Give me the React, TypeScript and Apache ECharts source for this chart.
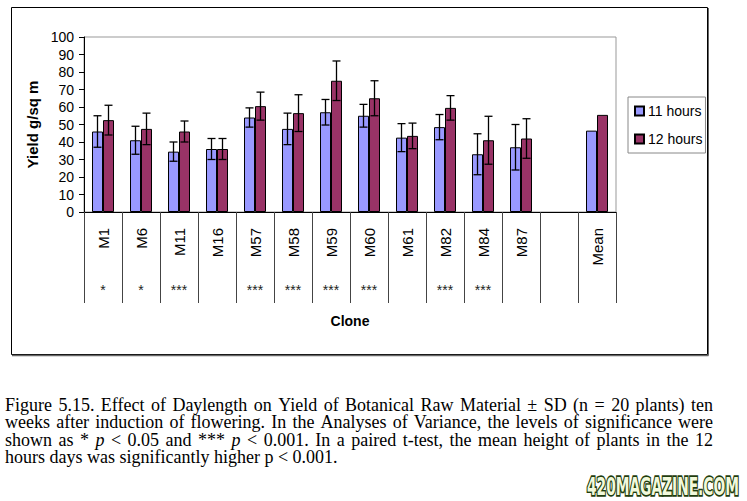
import React, { useEffect, useRef } from "react";
import * as echarts from "echarts";

const categories = ["M1", "M6", "M11", "M16", "M57", "M58", "M59", "M60", "M61", "M82", "M84", "M87", "", "Mean"];
const significance = ["*", "*", "***", "", "***", "***", "***", "***", "", "***", "***", "", "", ""];
const hours11 = [46, 41, 34.5, 36, 54, 47.5, 57, 55, 42.5, 48.5, 33, 37, null, 46.5];
const sd11 = [9, 8, 5.5, 6, 5.5, 9, 7.3, 6.5, 8, 7.2, 11.7, 13, null, null];
const hours12 = [52.5, 47.5, 46, 36, 60.5, 56.5, 75, 65, 43.5, 59.5, 41, 42, null, 55.5];
const sd12 = [8.5, 9, 6, 6, 8, 10.5, 11.3, 10, 7.3, 7, 13.7, 11.3, null, null];
const seriesNames = ["11 hours", "12 hours"];
const yTicks = { min: 0, max: 100, interval: 10 };

const captionLines = [
  "Figure 5.15. Effect of Daylength on Yield of Botanical Raw Material \u00b1 SD (n = 20 plants) ten",
  "weeks after induction of flowering.  In the Analyses of Variance, the levels of significance were",
  "shown as * p < 0.05 and *** p < 0.001. In a paired t-test, the mean height of plants in the 12",
  "hours days was significantly higher p < 0.001.",
];
const captionItalic = [[], [], [3, 8], []];
const watermark = "420MAGAZINE.COM";

const BAR_W = 11;
const SANS = "Liberation Sans";
const SERIF = "Liberation Serif";

function buildCaption(): any[] {
  const ctx = document.createElement("canvas").getContext("2d") as CanvasRenderingContext2D;
  const fs = 18;
  const left = 5;
  const right = 713;
  const out: any[] = [];
  captionLines.forEach((line, li) => {
    const words = line.split(/\s+/);
    const widths = words.map((w, wi) => {
      const it = captionItalic[li].includes(wi);
      ctx.font = `${it ? "italic " : ""}${fs}px "${SERIF}"`;
      return ctx.measureText(w).width;
    });
    ctx.font = `${fs}px "${SERIF}"`;
    const spaceW = ctx.measureText(" ").width;
    const total = widths.reduce((a, b) => a + b, 0);
    const justify = li < captionLines.length - 1;
    const gap = justify ? Math.max(spaceW * 0.6, (right - left - total) / (words.length - 1)) : spaceW;
    let x = left;
    const y = 404.5 + li * 17.6;
    words.forEach((w, wi) => {
      const it = captionItalic[li].includes(wi);
      out.push({
        type: "text",
        x,
        y,
        silent: true,
        style: {
          text: w,
          fontFamily: SERIF,
          fontSize: fs,
          lineHeight: 17,
          fontStyle: it ? "italic" : "normal",
          fill: "#000",
          verticalAlign: "middle",
        },
      });
      x += widths[wi] + gap;
    });
  });
  const baseFs = 25;
  ctx.font = `bold ${baseFs}px "DejaVu Sans Condensed"`;
  const ww = ctx.measureText(watermark).width;
  const wfs = (baseFs * 152) / ww;
  out.push({
    type: "text",
    x: 587,
    y: 487,
    scaleX: 1,
    scaleY: baseFs / wfs,
    silent: true,
    style: {
      text: watermark,
      fontFamily: "DejaVu Sans Condensed",
      fontWeight: "bold",
      fontSize: wfs,
      lineHeight: wfs * 0.9,
      fill: "#f2f9dc",
      stroke: "#1f3d0e",
      lineWidth: 2,
      verticalAlign: "middle",
    },
  });
  return out;
}

export default function App() {
  const ref = useRef<HTMLDivElement>(null);
  useEffect(() => {
    if (!ref.current) return;
    const chart = echarts.init(ref.current, null, { renderer: "svg" });
    const errData: any[] = [];
    [sd11, sd12].forEach((sds, s) => {
      const means = s === 0 ? hours11 : hours12;
      sds.forEach((sd, i) => {
        if (sd != null && means[i] != null) errData.push([i, means[i], sd, s]);
      });
    });
    const option: any = {
      animation: false,
      backgroundColor: "#fff",
      textStyle: { fontFamily: SANS },
      grid: { left: 84, top: 37, width: 532, height: 175, show: true, borderColor: "#999", borderWidth: 1, backgroundColor: "#fff" },
      legend: {
        data: seriesNames,
        orient: "vertical",
        left: 628,
        top: 97,
        icon: "rect",
        itemWidth: 9,
        itemHeight: 9,
        itemGap: 14,
        padding: [7, 3, 7, 6],
        borderColor: "#888",
        borderWidth: 1,
        textStyle: { fontFamily: SANS, fontSize: 14, color: "#000", padding: [0, 0, 0, -1] },
      },
      xAxis: [
        {
          type: "category",
          data: categories,
          name: "Clone",
          nameLocation: "middle",
          nameGap: 102,
          nameTextStyle: { fontFamily: SANS, fontSize: 14, fontWeight: "bold", color: "#000" },
          axisLine: { lineStyle: { color: "#000", width: 1 } },
          axisTick: { show: true, length: 91, interval: 0, lineStyle: { color: "#444", width: 1 } },
          axisLabel: { interval: 0, rotate: 90, margin: 16, fontSize: 15, fontFamily: SANS, color: "#000" },
        },
        {
          type: "category",
          data: significance,
          position: "bottom",
          axisLine: { show: false },
          axisTick: { show: false },
          axisLabel: { interval: 0, margin: 71, fontSize: 14, fontFamily: SANS, color: "#222" },
        },
      ],
      yAxis: {
        type: "value",
        min: yTicks.min,
        max: yTicks.max,
        interval: yTicks.interval,
        name: "Yield g/sq m",
        nameLocation: "middle",
        nameRotate: 90,
        nameGap: 33,
        nameTextStyle: { fontFamily: SANS, fontSize: 15, fontWeight: "bold", color: "#000" },
        axisLine: { show: true, lineStyle: { color: "#000", width: 1 } },
        axisTick: { show: true, length: 5, lineStyle: { color: "#000" } },
        axisLabel: { margin: 10, fontSize: 14, fontFamily: SANS, color: "#000" },
        splitLine: { show: false },
      },
      series: [
        {
          name: seriesNames[0],
          type: "bar",
          data: hours11,
          barWidth: BAR_W,
          barGap: "0%",
          itemStyle: { color: "#9999FF", borderColor: "#000", borderWidth: 1 },
        },
        {
          name: seriesNames[1],
          type: "bar",
          data: hours12,
          barWidth: BAR_W,
          barGap: "0%",
          itemStyle: { color: "#993366", borderColor: "#000", borderWidth: 1 },
        },
        {
          type: "custom",
          name: "sd",
          data: errData,
          encode: { x: 0, y: 1 },
          z: 10,
          renderItem: (params: any, api: any) => {
            const i = api.value(0);
            const m = api.value(1);
            const sd = api.value(2);
            const s = api.value(3);
            const off = (s === 0 ? -1 : 1) * (BAR_W / 2);
            const x = api.coord([i, m])[0] + off;
            const yt = api.coord([i, m + sd])[1];
            const yb = api.coord([i, m - sd])[1];
            const cap = 4;
            const st = { stroke: "#000", lineWidth: 1.3 };
            return {
              type: "group",
              children: [
                { type: "line", shape: { x1: x, y1: yt, x2: x, y2: yb }, style: st },
                { type: "line", shape: { x1: x - cap, y1: yt, x2: x + cap, y2: yt }, style: st },
                { type: "line", shape: { x1: x - cap, y1: yb, x2: x + cap, y2: yb }, style: st },
              ],
            };
          },
        },
      ],
      graphic: [
        { type: "rect", silent: true, z: -1, shape: { x: 11.5, y: 7.5, width: 696, height: 347 }, style: { fill: "none", stroke: "#000", lineWidth: 1 } },
        { type: "line", silent: true, shape: { x1: 12, y1: 355.5, x2: 708.5, y2: 355.5 }, style: { stroke: "#666", lineWidth: 1.5 } },
        { type: "line", silent: true, shape: { x1: 708.5, y1: 8, x2: 708.5, y2: 355.5 }, style: { stroke: "#666", lineWidth: 1 } },
        ...buildCaption(),
      ],
    };
    chart.setOption(option);
    return () => chart.dispose();
  }, []);
  return <div ref={ref} style={{ position: "absolute", left: 0, top: 0, width: 747, height: 501 }} />;
}
